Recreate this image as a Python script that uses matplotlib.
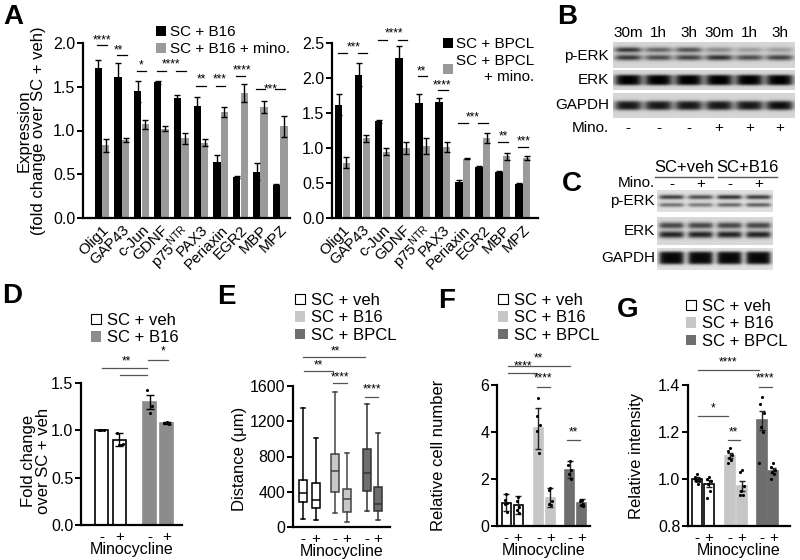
import numpy as np
import matplotlib
matplotlib.use('Agg')
import matplotlib.pyplot as plt
from matplotlib.patches import Patch
from matplotlib.lines import Line2D
from matplotlib.ticker import FormatStrFormatter

plt.rcParams['font.family'] = ['Liberation Sans', 'DejaVu Sans']
plt.rcParams['font.size'] = 11
plt.rcParams['mathtext.fontset'] = 'custom'
plt.rcParams['mathtext.rm'] = 'Liberation Sans'

W, H = 800, 560

# ---------------- DATA ----------------
genes = ['Olig1', 'GAP43', 'c-Jun', 'GDNF', r'p75$^{\mathregular{NTR}}$',
         'PAX3', 'Periaxin', 'EGR2', 'MBP', 'MPZ']
b16 = [1.71, 1.61, 1.45, 1.55, 1.37, 1.28, 0.64, 0.47, 0.53, 0.38]
b16_err = [0.10, 0.16, 0.12, 0.02, 0.03, 0.10, 0.08, 0.01, 0.10, 0.01]
b16_mino = [0.83, 0.89, 1.07, 1.02, 0.91, 0.86, 1.21, 1.43, 1.27, 1.05]
b16_mino_err = [0.07, 0.02, 0.05, 0.03, 0.06, 0.04, 0.06, 0.10, 0.07, 0.12]
bpcl = [1.62, 2.05, 1.38, 2.28, 1.64, 1.66, 0.52, 0.73, 0.66, 0.48]
bpcl_err = [0.15, 0.17, 0.02, 0.18, 0.13, 0.05, 0.02, 0.02, 0.01, 0.02]
bpcl_mino = [0.79, 1.14, 0.95, 1.00, 1.03, 1.02, 0.85, 1.14, 0.88, 0.86]
bpcl_mino_err = [0.08, 0.05, 0.05, 0.09, 0.12, 0.07, 0.01, 0.07, 0.05, 0.03]

# significance annotations: (label, text_x, text_y, groups with bar line, line_y)
sig_a_left = [('****', 0.0, 2.03, [0], 1.98), ('**', 0.85, 1.92, [1], 1.86),
              ('*', 1.95, 1.74, [2], 1.68), ('****', 3.5, 1.75, [3, 4], 1.68),
              ('**', 5.0, 1.58, [5], 1.51), ('***', 5.96, 1.58, [6], 1.51),
              ('****', 7.05, 1.69, [7], 1.62), ('***', 8.5, 1.47, [8, 9], 1.47)]
sig_a_right = [('***', 0.55, 2.44, [0, 1], 2.36), ('****', 2.55, 2.64, [2, 3], 2.54),
               ('**', 3.95, 2.10, [4], 2.03), ('****', 4.95, 1.90, [5], 1.83),
               ('***', 6.5, 1.43, [6, 7], 1.36), ('**', 8.0, 1.17, [8], 1.09),
               ('***', 9.05, 1.09, [9], 1.01)]

mino_signs4 = ['-', '+', '-', '+']
mino_signs6 = ['-', '+', '-', '+', '-', '+']

# D
d_means = [1.00, 0.90, 1.30, 1.08]
d_sem = [0.00, 0.07, 0.07, 0.01]
d_points = [[1.0, 1.0, 1.0], [0.97, 0.84, 0.85, 0.86],
            [1.43, 1.26, 1.18], [1.08, 1.07, 1.09]]

# E (box stats)
e_whishi = [1350, 1010, 1532, 838, 1396, 1067]
e_q3 = [533, 500, 828, 431, 885, 454]
e_med = [386, 306, 636, 318, 613, 261]
e_q1 = [284, 216, 397, 170, 409, 182]
e_whislo = [91, 75, 159, 57, 182, 79]

# F
f_means = [1.00, 0.90, 4.15, 1.20, 2.40, 1.00]
f_sd = [0.38, 0.38, 0.88, 0.40, 0.35, 0.14]
f_points = [[1.38, 1.10, 1.00, 0.95, 0.60], [1.25, 1.05, 0.80, 0.70, 0.55],
            [5.45, 4.70, 4.30, 4.05, 3.10], [1.60, 1.55, 1.05, 0.95, 0.90],
            [2.75, 2.60, 2.40, 2.20, 2.00], [1.12, 1.05, 0.95, 0.90, 0.85]]

# G
g_means = [1.00, 0.98, 1.10, 0.97, 1.25, 1.035]
g_sem = [0.010, 0.015, 0.012, 0.020, 0.040, 0.010]
g_points = [[1.02, 1.01, 1.00, 0.99, 0.98, 1.00, 0.99],
            [1.01, 1.00, 0.99, 0.98, 0.95, 0.92],
            [1.13, 1.12, 1.10, 1.09, 1.08, 1.07],
            [1.04, 1.03, 0.97, 0.95, 0.93, 0.93],
            [1.35, 1.32, 1.28, 1.22, 1.20, 1.07],
            [1.07, 1.05, 1.04, 1.03, 1.02, 1.00]]

# Western blots (band darkness per lane)
b_times = ['30m', '1h', '3h', '30m', '1h', '3h']
b_mino = ['-', '-', '-', '+', '+', '+']
b_perk_upper = [0.85, 0.60, 0.70, 0.40, 0.30, 0.30]
b_perk_lower = [0.80, 0.70, 0.75, 0.85, 0.70, 0.75]
b_erk = [1.0, 1.0, 1.0, 1.0, 1.0, 1.0]
b_gapdh = [0.90, 0.90, 0.90, 0.90, 0.90, 0.95]
c_mino = ['-', '+', '-', '+']
c_perk_upper = [0.85, 0.75, 0.90, 0.85]
c_perk_lower = [0.60, 0.55, 0.65, 0.70]
c_erk_upper = [0.75, 0.75, 0.75, 0.75]
c_erk_lower = [0.90, 0.90, 0.90, 0.90]
c_gapdh = [1.0, 1.0, 1.0, 1.0]

# ---------------- FIGURE ----------------
fig = plt.figure(figsize=(W / 100, H / 100), dpi=100)
fig.patch.set_facecolor('white')


def px_axes(x0, y0, x1, y1):
    return fig.add_axes([x0 / W, 1 - y1 / H, (x1 - x0) / W, (y1 - y0) / H])


def ftext(x, y, s, **kw):
    fig.text(x / W, 1 - y / H, s, **kw)


def style(ax):
    for s in ['top', 'right']:
        ax.spines[s].set_visible(False)
    for s in ['left', 'bottom']:
        ax.spines[s].set_linewidth(1.6)
    ax.tick_params(axis='y', direction='out', length=4, width=1.4, pad=1.5, labelsize=11.5)
    ax.tick_params(axis='x', length=0, labelsize=11)


def sigline(ax, x0, x1, y, color='k'):
    ax.plot([x0, x1], [y, y], color=color, lw=0.9, clip_on=False)


def sigtext(ax, x, y, s, fs=8.5):
    ax.text(x, y, s, ha='center', va='center', fontsize=fs, clip_on=False)


# ---- Panel A ----
BW = 0.37
OFF = 0.19


def panel_a(ax, top, err_top, bot, err_bot, ylim, yticks, xlim, sigs):
    x = np.arange(len(genes))
    ax.bar(x - OFF, top, BW, color='black', zorder=2)
    ax.bar(x + OFF, bot, BW, color='#9a9a9a', zorder=2)
    ax.errorbar(x - OFF, top, yerr=err_top, fmt='none', ecolor='black', elinewidth=1, capsize=2, capthick=1, zorder=3)
    ax.errorbar(x + OFF, bot, yerr=err_bot, fmt='none', ecolor='black', elinewidth=1, capsize=2, capthick=1, zorder=3)
    ax.set_xlim(*xlim)
    ax.set_ylim(*ylim)
    ax.set_yticks(yticks)
    ax.yaxis.set_major_formatter(FormatStrFormatter('%.1f'))
    ax.set_xticks(x)
    ax.set_xticklabels(genes, rotation=45, ha='right', rotation_mode='anchor', fontsize=12)
    style(ax)
    for lab, tx, ty, groups, ly in sigs:
        for g in groups:
            sigline(ax, g - OFF - 0.05, g + OFF + 0.05, ly)
        sigtext(ax, tx, ty, lab)


axA1 = px_axes(83, 43, 290, 218)
panel_a(axA1, b16, b16_err, b16_mino, b16_mino_err, (0, 2.0), [0, 0.5, 1.0, 1.5, 2.0], (-0.96, 9.5), sig_a_left)
axA1.set_ylabel('Expression\n(fold change over SC + veh)', fontsize=12, linespacing=1.0)
axA1.yaxis.label.set_va('center')
axA1.yaxis.set_label_coords(-0.25, 0.5)

axA2 = px_axes(332, 43, 538, 218)
panel_a(axA2, bpcl, bpcl_err, bpcl_mino, bpcl_mino_err, (0, 2.5), [0, 0.5, 1.0, 1.5, 2.0, 2.5], (-0.52, 9.75), sig_a_right)

legA1 = fig.legend(handles=[Patch(facecolor='black', label='SC + B16'),
                            Patch(facecolor='#9a9a9a', label='SC + B16 + mino.')],
                   loc='upper left', bbox_to_anchor=(156 / W, 1 - 25 / H), frameon=False,
                   fontsize=11, handlelength=0.65, handleheight=0.65, handletextpad=0.25,
                   labelspacing=0.2, borderpad=0, borderaxespad=0)
legA2 = fig.legend(handles=[Patch(facecolor='black', label='SC + BPCL'),
                            Patch(facecolor='#9a9a9a', label='SC + BPCL\n+ mino.')],
                   loc='upper left', bbox_to_anchor=(443 / W, 1 - 37 / H), frameon=False,
                   fontsize=11, handlelength=0.65, handleheight=0.65, handletextpad=0.2,
                   labelspacing=0.2, borderpad=0, borderaxespad=0)
legA2.get_texts()[1].set_multialignment('right')

# ---- Western blots ----


def draw_blot(x0, y0, x1, y1, bands, nl, bg=0.86):
    ax = px_axes(x0, y0, x1, y1)
    w = int((x1 - x0) * 4)
    h = int((y1 - y0) * 4)
    xs = np.linspace(0, 1, w)
    ys = np.linspace(0, 1, h)
    img = np.full((h, w), bg)
    for yc, hh, dark in bands:
        yprof = 1 / (1 + np.exp((np.abs(ys - yc) - hh) / 0.035))
        for i, d in enumerate(dark):
            c = (i + 0.5) / nl
            xprof = 1 / (1 + np.exp((np.abs(xs - c) - 0.41 / nl) / 0.012))
            img -= 0.85 * d * np.outer(yprof, xprof)
    img = np.clip(img, 0, 1)
    ax.imshow(img, cmap='gray', vmin=0, vmax=1, aspect='auto', interpolation='bilinear')
    ax.set_axis_off()
    return ax


# B
bx0, bx1 = 613, 795
draw_blot(bx0, 42, bx1, 68, [(0.30, 0.08, b_perk_upper), (0.60, 0.09, b_perk_lower)], 6, bg=0.84)
draw_blot(bx0, 70, bx1, 90, [(0.50, 0.25, b_erk)], 6, bg=0.84)
draw_blot(bx0, 93, bx1, 118, [(0.50, 0.17, b_gapdh)], 6, bg=0.84)
lane_w = (bx1 - bx0) / 6
for i, (t, m) in enumerate(zip(b_times, b_mino)):
    cx = bx0 + (i + 0.5) * lane_w
    ftext(cx, 33, t, ha='center', va='center', fontsize=11)
    ftext(cx, 128, m, ha='center', va='center', fontsize=11)
for lab, yy in [('p-ERK', 56), ('ERK', 80), ('GAPDH', 105), ('Mino.', 128)]:
    ftext(609, yy, lab, ha='right', va='center', fontsize=11)

# C
cx0, cx1 = 657, 773
draw_blot(cx0, 190, cx1, 212, [(0.32, 0.08, c_perk_upper), (0.68, 0.07, c_perk_lower)], 4, bg=0.88)
draw_blot(cx0, 217, cx1, 245, [(0.30, 0.09, c_erk_upper), (0.63, 0.10, c_erk_lower)], 4, bg=0.85)
draw_blot(cx0, 248, cx1, 270, [(0.45, 0.28, c_gapdh)], 4, bg=0.88)
lane_w = (cx1 - cx0) / 4
for i, m in enumerate(c_mino):
    ftext(cx0 + (i + 0.5) * lane_w, 184, m, ha='center', va='center', fontsize=11)
ftext(684, 167, 'SC+veh', ha='center', va='center', fontsize=12)
ftext(747, 167, 'SC+B16', ha='center', va='center', fontsize=12)
for a, b in [(655, 713), (718, 777)]:
    fig.add_artist(Line2D([a / W, b / W], [1 - 177 / H, 1 - 177 / H], color='#555555', lw=1))
for lab, yy in [('Mino.', 183), ('p-ERK', 201), ('ERK', 231), ('GAPDH', 258)]:
    ftext(655, yy, lab, ha='right', va='center', fontsize=11)

# ---- Panel D ----
axD = px_axes(81, 383, 182, 525)
d_x = [0, 1, 2.7, 3.65]
d_cols = ['white', 'white', '#8c8c8c', '#8c8c8c']
d_edges = ['black', 'black', '#8c8c8c', '#8c8c8c']
axD.bar(d_x, d_means, 0.72, color=d_cols, edgecolor=d_edges, linewidth=1.2, zorder=2)
axD.errorbar(d_x, d_means, yerr=d_sem, fmt='none', ecolor='black', elinewidth=1, capsize=3, capthick=1, zorder=3)
offs = [-0.15, 0.12, 0.0, 0.2]
for xi, pts in zip(d_x, d_points):
    axD.scatter([xi + offs[j % 4] for j in range(len(pts))], pts, s=5, color='black', zorder=4, linewidths=0)
axD.set_xlim(-1.14, 4.5)
axD.set_ylim(0, 1.5)
axD.set_yticks([0, 0.5, 1.0, 1.5])
axD.yaxis.set_major_formatter(FormatStrFormatter('%.1f'))
axD.set_xticks(d_x)
axD.set_xticklabels(mino_signs4)
style(axD)
axD.set_xlabel('Minocycline', fontsize=11.5, labelpad=-1)
axD.set_ylabel('Fold change\nover SC + veh', fontsize=12, linespacing=1.0)
axD.yaxis.label.set_va('center')
axD.yaxis.set_label_coords(-0.45, 0.45)
sigline(axD, 0.05, 2.55, 1.66, '#555555')
sigline(axD, 1.03, 2.55, 1.58, '#555555')
sigtext(axD, 1.42, 1.73, '**')
sigline(axD, 2.6, 3.7, 1.74, '#555555')
sigtext(axD, 3.42, 1.83, '*')

# ---- Panel E ----
axE = px_axes(293, 386, 390, 527)
e_x = [0, 1, 2.55, 3.5, 5.1, 6.0]
e_face = ['white', 'white', '#c8c8c8', '#c8c8c8', '#6e6e6e', '#6e6e6e']
e_edge = ['black', 'black', '#444444', '#444444', '#333333', '#333333']
stats = [dict(med=m, q1=a, q3=b, whislo=lo, whishi=hi, fliers=[])
         for m, a, b, lo, hi in zip(e_med, e_q1, e_q3, e_whislo, e_whishi)]
bp = axE.bxp(stats, positions=e_x, widths=0.64, patch_artist=True, showfliers=False)
for i, box in enumerate(bp['boxes']):
    box.set_facecolor(e_face[i])
    box.set_edgecolor(e_edge[i])
    box.set_linewidth(1.1)
    bp['medians'][i].set_color(e_edge[i])
    bp['medians'][i].set_linewidth(1.1)
    for k in (2 * i, 2 * i + 1):
        bp['whiskers'][k].set_color(e_edge[i])
        bp['whiskers'][k].set_linewidth(1.1)
        bp['caps'][k].set_color(e_edge[i])
        bp['caps'][k].set_linewidth(1.1)
axE.set_xlim(-0.8, 6.96)
axE.set_ylim(0, 1600)
axE.set_yticks([0, 400, 800, 1200, 1600])
axE.set_xticks(e_x)
axE.set_xticklabels(mino_signs6)
style(axE)
axE.set_xlabel('Minocycline', fontsize=11.5, labelpad=-1)
axE.set_ylabel('Distance (\u03bcm)', fontsize=12)
axE.yaxis.label.set_va('center')
axE.yaxis.set_label_coords(-0.55, 0.48)
sigline(axE, 0.0, 4.96, 1930, '#555555'); sigtext(axE, 2.56, 1990, '**')
sigline(axE, 0.08, 2.4, 1770, '#555555'); sigtext(axE, 1.2, 1830, '**')
sigline(axE, 2.4, 3.5, 1634, '#555555'); sigtext(axE, 2.96, 1700, '****')
sigline(axE, 4.96, 6.0, 1475, '#555555'); sigtext(axE, 5.5, 1560, '****')

# ---- Panel F ----
axF = px_axes(497, 385, 590, 526)
f_x = [0, 1, 2.7, 3.7, 5.3, 6.3]
f_face = ['white', 'white', '#c6c6c6', '#c6c6c6', '#6e6e6e', '#6e6e6e']
f_edge = ['black', 'black', '#c6c6c6', '#c6c6c6', '#6e6e6e', '#6e6e6e']
axF.bar(f_x, f_means, 0.75, color=f_face, edgecolor=f_edge, linewidth=1.2, zorder=2)
axF.errorbar(f_x, f_means, yerr=f_sd, fmt='none', ecolor='#222222', elinewidth=1, capsize=2.5, capthick=1, zorder=3)
offs5 = [0.0, -0.12, 0.12, -0.08, 0.08]
for xi, pts in zip(f_x, f_points):
    axF.scatter([xi + offs5[j] for j in range(len(pts))], pts, s=5, color='black', zorder=4, linewidths=0)
axF.set_xlim(-0.75, 7.0)
axF.set_ylim(0, 6)
axF.set_yticks([0, 2, 4, 6])
axF.set_xticks(f_x)
axF.set_xticklabels(mino_signs6)
style(axF)
axF.set_xlabel('Minocycline', fontsize=11.5, labelpad=-1)
axF.set_ylabel('Relative cell number', fontsize=12)
axF.yaxis.label.set_va('center')
axF.yaxis.set_label_coords(-0.63, 0.5)
sigline(axF, 0.17, 5.33, 6.8, '#555555'); sigtext(axF, 2.67, 7.15, '**')
sigline(axF, 0.17, 2.6, 6.5, '#555555'); sigtext(axF, 1.42, 6.8, '****')
sigline(axF, 2.6, 3.7, 5.9, '#555555'); sigtext(axF, 3.1, 6.3, '****')
sigline(axF, 5.1, 6.2, 3.66, '#555555'); sigtext(axF, 5.6, 3.98, '**')

# ---- Panel G ----
axG = px_axes(688, 385, 790, 526)
g_x = [0, 1, 2.75, 3.75, 5.4, 6.35]
axG.bar(g_x, [m - 0.8 for m in g_means], 0.8, bottom=0.8, color=f_face, edgecolor=f_edge, linewidth=1.2, zorder=2)
axG.errorbar(g_x, g_means, yerr=g_sem, fmt='none', ecolor='#222222', elinewidth=1, capsize=2.5, capthick=1, zorder=3)
offs7 = [0.0, -0.15, 0.15, -0.08, 0.08, -0.2, 0.2]
for xi, pts in zip(g_x, g_points):
    axG.scatter([xi + offs7[j] for j in range(len(pts))], pts, s=5, color='black', zorder=4, linewidths=0)
axG.set_xlim(-0.75, 7.75)
axG.set_ylim(0.8, 1.4)
axG.set_yticks([0.8, 1.0, 1.2, 1.4])
axG.yaxis.set_major_formatter(FormatStrFormatter('%.1f'))
axG.set_xticks(g_x)
axG.set_xticklabels(mino_signs6)
style(axG)
axG.set_xlabel('Minocycline', fontsize=11.5, labelpad=-1)
axG.set_ylabel('Relative intensity', fontsize=12)
axG.yaxis.label.set_va('center')
axG.yaxis.set_label_coords(-0.5, 0.5)
sigline(axG, 0.08, 5.17, 1.464, '#555555'); sigtext(axG, 2.6, 1.494, '****')
sigline(axG, 0.08, 2.6, 1.268, '#555555'); sigtext(axG, 1.33, 1.30, '*')
sigline(axG, 2.6, 3.6, 1.166, '#555555'); sigtext(axG, 3.0, 1.198, '**')
sigline(axG, 5.17, 6.25, 1.39, '#555555'); sigtext(axG, 5.67, 1.428, '****')

# ---- Legends D-G ----


def small_legend(x, y, handles, spacing=0.1):
    fig.legend(handles=handles, loc='upper left', bbox_to_anchor=(x / W, 1 - y / H), frameon=False,
               fontsize=12, handlelength=0.6, handleheight=0.6, handletextpad=0.35,
               labelspacing=spacing, borderpad=0, borderaxespad=0)


h_veh = Patch(facecolor='white', edgecolor='black', linewidth=0.8, label='SC + veh')
small_legend(91, 313, [h_veh, Patch(facecolor='#8c8c8c', label='SC + B16')], 0.15)
small_legend(295, 293, [h_veh, Patch(facecolor='#c8c8c8', label='SC + B16'),
                        Patch(facecolor='#6e6e6e', label='SC + BPCL')], 0.15)
small_legend(498, 293, [h_veh, Patch(facecolor='#c6c6c6', label='SC + B16'),
                        Patch(facecolor='#6e6e6e', label='SC + BPCL')], 0.15)
small_legend(686, 299, [h_veh, Patch(facecolor='#c6c6c6', label='SC + B16'),
                        Patch(facecolor='#6e6e6e', label='SC + BPCL')], 0.15)

# ---- Panel letters ----
for lab, x, y in [('A', 3, 17), ('B', 557, 17), ('C', 562, 184), ('D', 2, 296),
                  ('E', 217, 297), ('F', 438, 301), ('G', 617, 310)]:
    ftext(x, y, lab, fontsize=20, fontweight='bold', ha='left', va='center')

fig.savefig('out.png', dpi=100)
